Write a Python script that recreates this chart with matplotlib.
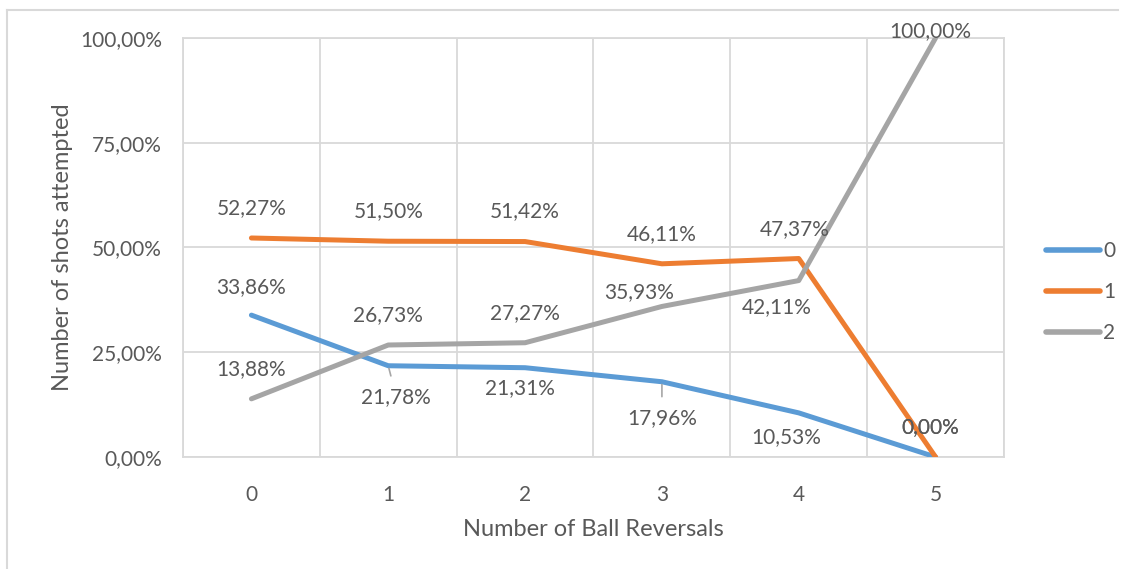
import numpy as np
import matplotlib.pyplot as plt
from matplotlib.lines import Line2D

plt.rcParams['font.family'] = ['Lato', 'DejaVu Sans']

categories = [0, 1, 2, 3, 4, 5]
series_names = ['0', '1', '2']
s0 = [33.86, 21.78, 21.31, 17.96, 10.53, 0.00]
s1 = [52.27, 51.50, 51.42, 46.11, 47.37, 0.00]
s2 = [13.88, 26.73, 27.27, 35.93, 42.11, 100.00]
y_ticks = [0, 25, 50, 75, 100]

colors = ['#5B9BD5', '#ED7D31', '#A5A5A5']
text_col = '#595959'
grid_col = '#D9D9D9'

# label offsets in pixels (dx, dy) relative to each point
offsets = [
    [(0, 28), (8, -31), (-5, -20), (0, -36), (-13, -24), (-5, 30)],
    [(0, 30), (0, 30), (0, 30), (0, 30), (-4, 29), (-5, 30)],
    [(0, 30), (0, 30), (0, 30), (-23, 14), (-22, -27), (-5, 7)],
]
leaders = {(0, 1), (0, 3)}


def fmt(v):
    return f'{v:.2f}'.replace('.', ',') + '%'


fig = plt.figure(figsize=(11.25, 5.69), dpi=100)
W, H = 1125, 569
ax = fig.add_axes([183 / W, 1 - 457 / H, (1004 - 183) / W, (457 - 38) / H])

x = np.array(categories)
for i, vals in enumerate([s0, s1, s2]):
    ax.plot(x, vals, color=colors[i], lw=3.6, solid_capstyle='round',
            solid_joinstyle='round', zorder=3)
    for j, v in enumerate(vals):
        dx, dy = offsets[i][j]
        kw = {}
        if (i, j) in leaders:
            kw['arrowprops'] = dict(arrowstyle='-', color='#A6A6A6', lw=1.2,
                                    shrinkA=6, shrinkB=2)
        ax.annotate(fmt(v), (x[j], v), xytext=(dx, dy), textcoords='offset pixels',
                    ha='center', va='center', fontsize=15, color=text_col,
                    zorder=4, **kw)

ax.set_xlim(-0.5, 5.5)
ax.set_ylim(0, 100)
ax.set_xticks(x)
ax.set_xticks(np.arange(-0.5, 5.6, 1), minor=True)
ax.set_yticks(y_ticks)
ax.set_yticklabels([fmt(t) for t in y_ticks])
ax.grid(True, axis='y', color=grid_col, lw=1.3)
ax.grid(True, axis='x', which='minor', color=grid_col, lw=1.3)
ax.set_axisbelow(True)
for sp in ax.spines.values():
    sp.set_color(grid_col)
    sp.set_linewidth(1.3)
ax.tick_params(which='both', length=0, colors=text_col, labelsize=15)
ax.tick_params(axis='y', pad=15)
ax.tick_params(axis='x', pad=20)

ax.set_xlabel('Number of Ball Reversals', fontsize=17, color=text_col, labelpad=10)
ax.set_ylabel('Number of shots attempted', fontsize=17, color=text_col, labelpad=5)

handles = [Line2D([], [], color=c, lw=4, solid_capstyle='round') for c in colors]
fig.legend(handles, series_names, loc='center left',
           bbox_to_anchor=(1027 / W, 1 - 292 / H), frameon=False,
           fontsize=15, labelcolor=text_col, handlelength=2.6,
           handletextpad=0.15, labelspacing=1.0)

# outer chart frame (top and left edges visible)
fig.add_artist(Line2D([7 / W, 1118 / W], [1 - 10 / H, 1 - 10 / H],
                      transform=fig.transFigure, color=grid_col, lw=1.5))
fig.add_artist(Line2D([7 / W, 7 / W], [1 - 10 / H, 0],
                      transform=fig.transFigure, color=grid_col, lw=1.5))

fig.savefig('out.png', dpi=100)
